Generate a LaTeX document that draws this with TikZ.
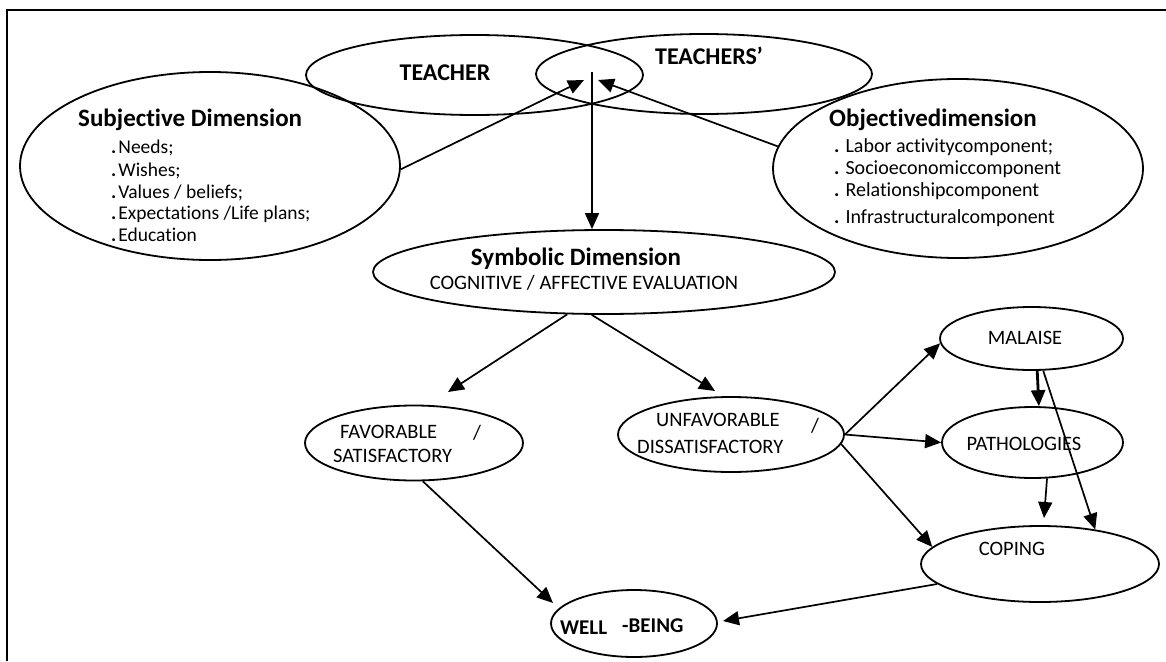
\documentclass[tikz,border=0pt]{standalone}
\usepackage{fontspec}
\setmainfont{Carlito}[Ligatures={TeX,NoCommon}]
\usetikzlibrary{arrows.meta,shapes.geometric}
\begin{document}
\begin{tikzpicture}[x=1pt,y=-1pt,
  ell/.style={draw, ellipse, line width=1.8pt, inner sep=0pt},
  arr/.style={-{Triangle[length=16pt,width=14pt]}, line width=1.7pt},
  hd/.style={inner sep=0pt, font=\fontsize{25}{30}\selectfont\bfseries},
  hdm/.style={inner sep=0pt, font=\fontsize{24}{28}\selectfont\bfseries},
  hds/.style={inner sep=0pt, font=\fontsize{21}{25}\selectfont\bfseries},
  itm/.style={inner sep=0pt, font=\fontsize{19.5}{22}\selectfont, anchor=base west},
  oitm/.style={inner sep=0pt, font=\fontsize{20}{22}\selectfont, anchor=base west},
  txt/.style={inner sep=0pt, font=\fontsize{20.5}{24}\selectfont}
]
\useasboundingbox (0,0) rectangle (1166,661);
% frame
\draw[line width=1.8pt] (1166,10) -- (7,10) -- (7,661);

% ellipses
\node[ell, minimum width=337pt, minimum height=80pt] (teacher) at (474.5,75) {};
\node[ell, minimum width=336pt, minimum height=80pt] (teachers) at (704,74) {};
\node[ell, minimum width=380pt, minimum height=188pt] (subj) at (210,166) {};
\node[ell, minimum width=370pt, minimum height=179pt] (obj) at (958,168.5) {};
\node[ell, minimum width=462pt, minimum height=84pt] (sym) at (604,272) {};
\node[ell, minimum width=218pt, minimum height=75pt] (fav) at (414,443) {};
\node[ell, minimum width=226pt, minimum height=75pt] (unfav) at (731,434.5) {};
\node[ell, minimum width=183pt, minimum height=63pt] (mal) at (1031.5,338.5) {};
\node[ell, minimum width=181pt, minimum height=71pt] (path) at (1032.5,442.5) {};
\node[ell, minimum width=238pt, minimum height=76pt] (cop) at (1040,564) {};
\node[ell, minimum width=166pt, minimum height=67pt] (well) at (634,623.5) {};

% texts
\node[hdm, anchor=base] (tteacher) at (445,80.7) {TEACHER};
\node[hdm, anchor=base] (tteachers) at (709,64.7) {TEACHERS’};

\node[hd, anchor=base west] (tsubj) at (78,126) {Subjective Dimension};
\node[itm] (s1) at (111,153) {\textbf{.}\hspace{2pt}Needs;};
\node[itm] (s2) at (111,176) {\textbf{.}\hspace{2pt}Wishes;};
\node[itm] (s3) at (111,198) {\textbf{.}\hspace{2pt}Values / beliefs;};
\node[itm] (s4) at (111,219) {\textbf{.}\hspace{2pt}Expectations /Life plans;};
\node[itm] (s5) at (111,241) {\textbf{.}\hspace{2pt}Education};

\node[hd, anchor=base west] (tobj) at (829,126) {Objectivedimension};
\node[oitm] (o1) at (834,152.4) {\textbf{.}\hspace{6pt}Labor activitycomponent;};
\node[oitm] (o2) at (834,174.4) {\textbf{.}\hspace{6pt}Socioeconomiccomponent};
\node[oitm] (o3) at (834,196.4) {\textbf{.}\hspace{6pt}Relationshipcomponent};
\node[oitm] (o4) at (834,223.4) {\textbf{.}\hspace{6pt}Infrastructuralcomponent};

\node[hd, anchor=base] (tsym) at (576,265) {Symbolic Dimension};
\node[txt, anchor=base] (tcog) at (584,289.6) {COGNITIVE / AFFECTIVE EVALUATION};

\node[txt, anchor=base west] (tfav1) at (340,438.6) {FAVORABLE};
\node[txt, anchor=base] (tfavs) at (477,439.6) {/};
\node[txt, anchor=base west] (tfav2) at (333,462.6) {SATISFACTORY};

\node[txt, anchor=base west] (tunf1) at (656,426.6) {UNFAVORABLE};
\node[txt, anchor=base] (tunfs) at (815,432) {/};
\node[txt, anchor=base west] (tunf2) at (637,453.6) {DISSATISFACTORY};

\node[txt, anchor=base] (tmal) at (1025,344.6) {MALAISE};
\node[txt, anchor=base] (tpath) at (1024,450.6) {PATHOLOGIES};
\node[txt, anchor=base] (tcop) at (1012,555.6) {COPING};

\node[hds, anchor=base west] (twell) at (560,634.8) {WELL};
\node[hds, anchor=base west] (tbeing) at (622,632.8) {-BEING};

% free ends
\coordinate (tipL) at (584,80);
\coordinate (tipR) at (598,80);
\coordinate (vtop) at (592,72);
\coordinate (tipF) at (448,392);
\coordinate (tipU) at (715,391);
\coordinate (tipW1) at (553,603);
\coordinate (tipW2) at (723,621);
\coordinate (tipP) at (1044,518);

% connectors
\draw[arr] (subj.-1) -- (tipL);
\draw[arr] (obj.173) -- (tipR);
\draw[arr] (vtop) -- (vtop |- sym.north);
\draw[arr] (sym.229) -- (tipF);
\draw[arr] (sym.254) -- (tipU);
\draw[arr] (fav.-77) -- (tipW1);
\draw[arr] (unfav.east) -- (mal.183);
\draw[arr] (unfav.east) -- (path.west);
\draw[arr] (unfav.-5) -- (cop.171);
\draw[arr, line width=2.8pt] (mal.-80) -- (path.80);
\draw[arr] (mal.-70) -- (cop.32);
\draw[arr] (path.-68) -- (tipP);
\draw[arr] (cop.191) -- (tipW2);
\end{tikzpicture}
\end{document}
